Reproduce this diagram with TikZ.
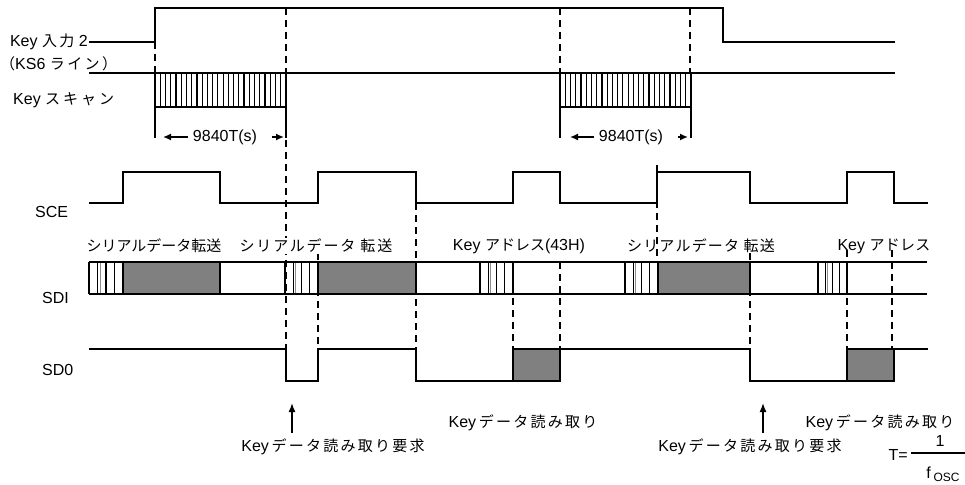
\documentclass[tikz,border=0pt]{standalone}
\usepackage{fontspec}
\setmainfont{Liberation Sans}
\newfontfamily\jpfont{Noto Sans CJK JP}
\usetikzlibrary{arrows.meta}

% Japanese run with optional letter spacing
\newcommand{\jp}[2][0]{{\fontsize{15}{18}\jpfont\addfontfeatures{LetterSpace=#1}#2}}

\definecolor{sgray}{RGB}{128,128,128}

\tikzset{
  sig/.style={line width=2pt, line join=miter},
  tick/.style={line width=1.6pt},
  guide/.style={line width=1.5pt, dash pattern=on 7pt off 5pt},
  hatch/.style={line width=1.2pt},
  hatchlt/.style={line width=0.7pt, black!45},
  lbl/.style={inner sep=0pt, font=\fontsize{16}{19}\selectfont},
  dimarr/.style={line width=1.5pt, -{Latex[length=8pt,width=7pt]}},
  uparr/.style={line width=1.5pt, -{Latex[length=9pt,width=7pt]}},
}

% striped SDI block between two x positions
\newcommand{\sdihatch}[2]{%
  \foreach \k in {0,...,4}
    \draw[hatch] ({#1+\k*(#2-#1)/4},262) -- ++(0,32);
  \draw[hatchlt] ({#1+(#2-#1)/4+2.5},262) -- ++(0,32);
}

\begin{document}
\begin{tikzpicture}[x=1pt,y=-1pt]
\useasboundingbox (0,0) rectangle (965,484);

% ---------- signal names ----------
\node[lbl, anchor=east] (nkin) at (88,42) {Key \jp[16]{入力} 2};
\node[lbl, anchor=west] (nks6) at (0,64) {\jp[16]{（}KS6 \jp[16]{ライン）}};
\node[lbl, anchor=west] (nscan) at (13,100) {Key \jp[20]{スキャン}};
\node[lbl, anchor=west] (nsce) at (35,212) {SCE};
\node[lbl, anchor=west] (nsdi) at (42,298) {SDI};
\node[lbl, anchor=west] (nsd0) at (42,370) {SD0};

% ---------- guide lines ----------
\draw[guide] (155,42) -- (155,73);
\draw[guide] (286,8) -- (286,349);
\draw[guide] (318,253) -- (318,349);
\draw[guide] (416,203) -- (416,349);
\draw[guide] (513,262) -- (513,349);
\draw[guide] (560,8) -- (560,73);
\draw[guide] (560,262) -- (560,349);
\draw[guide] (657,165) -- (657,262);
\draw[guide] (690,8) -- (690,73);
\draw[guide] (750,253) -- (750,349);
\draw[guide] (847,250) -- (847,349);
\draw[guide] (892,250) -- (892,349);

% ---------- Key input 2 / KS6 line ----------
\draw[sig] (89,42) -- (155,42) -- (155,8) -- (723,8) -- (723,42) -- (895,42);
\draw[sig] (89,73) -- (895,73);

% ---------- Key scan bursts ----------
\foreach \x in {155,560} {
  \fill[white] (\x,73) rectangle ++(131,34);
  \foreach \i in {1,...,24}
    \draw[hatch] ({\x+\i*131/25},73) -- ++(0,34);
  \draw[sig] (\x,73) rectangle ++(131,34);
}
\draw[tick] (155,107) -- (155,138);
\draw[tick] (286,107) -- (286,138);
\draw[tick] (560,107) -- (560,138);
\draw[tick] (691,107) -- (691,138);

% ---------- 9840T(s) spans ----------
\node[lbl, fill=white, inner sep=1pt] (dim1) at (225,137) {9840T(s)};
\draw[dimarr] (dim1.west) ++(-4,0) coordinate (d1a) -- (163,137);
\draw[dimarr] (dim1.east) ++(14,0) coordinate (d1b) -- (284,137);
\node[lbl, fill=white, inner sep=1pt] (dim2) at (631,137) {9840T(s)};
\draw[dimarr] (dim2.west) ++(-4,0) coordinate (d2a) -- (570,137);
\draw[dimarr] (dim2.east) ++(14,0) coordinate (d2b) -- (688,137);

% ---------- SCE ----------
\draw[sig] (89,203) -- (123,203) -- (123,172) -- (220,172) -- (220,203)
  -- (318,203) -- (318,172) -- (416,172) -- (416,203)
  -- (513,203) -- (513,172) -- (560,172) -- (560,203)
  -- (657,203) -- (657,172) -- (750,172) -- (750,203)
  -- (847,203) -- (847,172) -- (894,172) -- (894,203) -- (928,203);

% ---------- SDI ----------
\node[lbl, fill=white, inner sep=1pt] (t1) at (154,246) {\jp{シリアルデータ転送}};
\node[lbl, fill=white, inner sep=1pt] (t2) at (316,246) {\jp[12]{シリアルデータ 転送}};
\node[lbl] (t3) at (519,246) {Key \jp{アドレス}(43H)};
\node[lbl] (t4) at (701,246) {\jp[8]{シリアルデータ 転送}};
\node[lbl] (t5) at (884,246) {Key \jp[2]{アドレス}};

\fill[white] (89,262) rectangle (123,294);
\sdihatch{89}{123}
\sdihatch{285}{318}
\sdihatch{480}{513}
\sdihatch{625}{658}
\sdihatch{818}{847}
\filldraw[sig, fill=sgray] (123,262) rectangle (220,294);
\filldraw[sig, fill=sgray] (318,262) rectangle (416,294);
\filldraw[sig, fill=sgray] (658,262) rectangle (750,294);
\draw[sig] (89,262) -- (927,262);
\draw[sig] (89,294) -- (927,294);
\draw[sig] (89,262) -- (89,294);

% ---------- SD0 ----------
\draw[sig] (89,349) -- (286,349) -- (286,381) -- (318,381) -- (318,349)
  -- (416,349) -- (416,381) -- (513,381);
\filldraw[sig, fill=sgray] (513,349) rectangle (560,381);
\draw[sig] (560,349) -- (750,349) -- (750,381) -- (847,381);
\filldraw[sig, fill=sgray] (847,349) rectangle (894,381);
\draw[sig] (894,349) -- (928,349);

% ---------- annotations ----------
\node[lbl] (req1) at (333,447) {Key\,\jp[15]{データ読み取り要求}};
\node[lbl] (rd1) at (523,423) {Key\,\jp[15]{データ読み取り}};
\node[lbl] (req2) at (750,447) {Key\,\jp[15]{データ読み取り要求}};
\node[lbl] (rd2) at (880,423) {Key\,\jp[15]{データ読み取り}};
\coordinate (a1) at (292,433);
\coordinate (a1t) at (292,403);
\coordinate (a2) at (763,433);
\coordinate (a2t) at (763,403);
\draw[uparr] (a1) -- (a1t);
\draw[uparr] (a2) -- (a2t);

% ---------- T = 1 / fosc ----------
\node[lbl, anchor=east] (teq) at (908,455) {T=};
\coordinate (fr0) at (911,453);
\coordinate (fr1) at (965,453);
\draw[line width=1.2pt] (fr0) -- (fr1);
\node[lbl] (num) at (940,441) {1};
\node[lbl] (den) at (943,474) {f\,\raisebox{-3pt}{\fontsize{12}{12}\selectfont OSC}};
\end{tikzpicture}
\end{document}
